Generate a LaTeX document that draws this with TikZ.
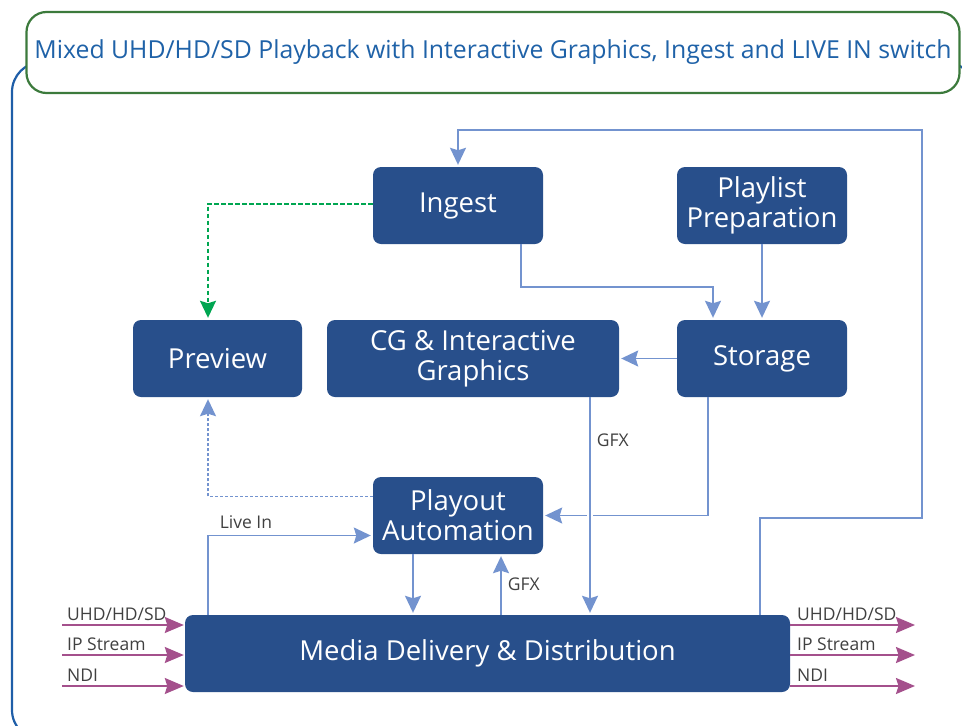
\documentclass[tikz,border=0pt]{standalone}
\usepackage{fontspec}
\setmainfont{Open Sans}
\usetikzlibrary{arrows.meta,calc}
\definecolor{nodefill}{HTML}{284F8B}
\definecolor{conn}{HTML}{7393CF}
\definecolor{greenline}{HTML}{00A651}
\definecolor{mag}{HTML}{A4508C}
\definecolor{frameblue}{HTML}{1F5EA8}
\definecolor{framegreen}{HTML}{3C7A3C}
\definecolor{titleblue}{HTML}{1F62A8}
\definecolor{labelgray}{HTML}{404040}
\tikzset{
  box/.style={fill=nodefill, draw=none, rounded corners=8pt, text=white, align=center,
    font=\fontsize{27.5}{30}\selectfont, inner sep=0pt},
  connline/.style={draw=conn, line width=1.6pt, shorten >=2pt, -{Stealth[length=17pt,width=16pt,inset=2.5pt]}},
  dashconn/.style={draw=conn, line width=1.5pt, shorten >=2pt, dash pattern=on 3pt off 2pt, -{Stealth[length=17pt,width=16pt,inset=2.5pt]}},
  greenconn/.style={draw=greenline, line width=2pt, shorten >=2pt, dash pattern=on 4.5pt off 2.5pt, -{Stealth[length=17pt,width=16pt,inset=2.5pt]}},
  magarrow/.style={draw=mag, line width=1.8pt, shorten >=1pt, -{Stealth[length=19pt,width=16pt,inset=2.5pt]}},
  lbl/.style={text=labelgray, font=\fontsize{17.5}{20}\selectfont, inner sep=0pt},
}
\begin{document}
\begin{tikzpicture}[x=1pt,y=-1pt]
\useasboundingbox (0,0) rectangle (962,726);
\begin{scope}
\clip (0,0) rectangle (962,726);
\draw[frameblue, line width=2.2pt, rounded corners=30pt] (12,62) rectangle (975,740);
\end{scope}
\node[draw=framegreen, line width=2.2pt, fill=white, rounded corners=20pt,
  minimum width=933pt, minimum height=81pt, inner sep=0pt,
  text=titleblue, font=\fontsize{24.8}{28}\selectfont] (title) at (493,52.5)
  {Mixed UHD/HD/SD Playback with Interactive Graphics, Ingest and LIVE IN switch};

% nodes
\node[box, minimum width=170pt, minimum height=77pt] (ingest) at (458,205.5) {Ingest};
\node[box, minimum width=170pt, minimum height=77pt] (playlist) at (762,205.5) {Playlist\\Preparation};
\node[box, minimum width=169pt, minimum height=77pt] (preview) at (217.5,358.5) {Preview};
\node[box, minimum width=292pt, minimum height=77pt] (cg) at (473,358.5) {CG \& Interactive\\Graphics};
\node[box, minimum width=170pt, minimum height=77pt] (storage) at (762,358.5) {Storage};
\node[box, minimum width=170pt, minimum height=77pt] (playout) at (458,515.5) {Playout\\Automation};
\node[box, minimum width=605pt, minimum height=77pt, font=\fontsize{27.5}{32}\selectfont] (media) at (487.5,653.5) {Media Delivery \& Distribution};

% helper coordinates
\coordinate (xgfx) at (590,0);
\coordinate (xprev) at (208,0);
\coordinate (xlive) at (208,0);
\coordinate (xloop) at (760,0);
\coordinate (xpd) at (413,0);
\coordinate (xpu) at (501,0);
\coordinate (xing) at (521,0);
\coordinate (xsto) at (713,0);
\coordinate (xsto2) at (708,0);
\coordinate (loopR) at (922,518);
\coordinate (loopT) at (458,130);
\coordinate (ingmid) at (0,287);

% connectors
\draw[connline] (media.north -| xloop) |- (loopR) |- (loopT) -- (ingest.north);
\draw[connline] (ingest.south -| xing) |- (ingmid -| xsto) -- (storage.north -| xsto);
\draw[connline] (playlist.south) -- (storage.north -| playlist.south);
\draw[connline] (storage.west) -- (cg.east);
\draw[connline] (storage.south -| xsto2) |- (playout.east);
\draw[white, line width=6pt] (590,507) -- (590,523);
\draw[connline] (cg.south -| xgfx) -- node[pos=0.2, right=6pt, lbl]{GFX} (media.north -| xgfx);
\draw[connline] (playout.south -| xpd) -- (media.north -| xpd);
\draw[connline] (media.north -| xpu) -- node[pos=0.5, right=6pt, lbl]{GFX} (playout.south -| xpu);
\draw[connline] (media.north -| xlive) |- node[pos=0.615, above=6pt, lbl]{Live In} ($(playout.west)+(0,20)$);
\draw[dashconn] ($(playout.west)+(0,-19)$) -| (preview.south -| xprev);
\draw[greenconn] ($(ingest.west)+(0,-2)$) -| (preview.north -| xprev);

% inputs
\coordinate (in1) at (62,625);
\coordinate (in2) at (62,655);
\coordinate (in3) at (62,686);
\draw[magarrow] (in1) -- (in1 -| media.west);
\draw[magarrow] (in2) -- (in2 -| media.west);
\draw[magarrow] (in3) -- (in3 -| media.west);
\node[lbl, anchor=base west] (li1) at (67,620) {UHD/HD/SD};
\node[lbl, anchor=base west] (li2) at (67,650) {IP Stream};
\node[lbl, anchor=base west] (li3) at (67,681) {NDI};

% outputs
\coordinate (out1) at (916,625);
\coordinate (out2) at (916,655);
\coordinate (out3) at (916,686);
\draw[magarrow] (out1 -| media.east) -- (out1);
\draw[magarrow] (out2 -| media.east) -- (out2);
\draw[magarrow] (out3 -| media.east) -- (out3);
\node[lbl, anchor=base west] (lo1) at (797,620) {UHD/HD/SD};
\node[lbl, anchor=base west] (lo2) at (797,650) {IP Stream};
\node[lbl, anchor=base west] (lo3) at (797,681) {NDI};
\end{tikzpicture}
\end{document}
